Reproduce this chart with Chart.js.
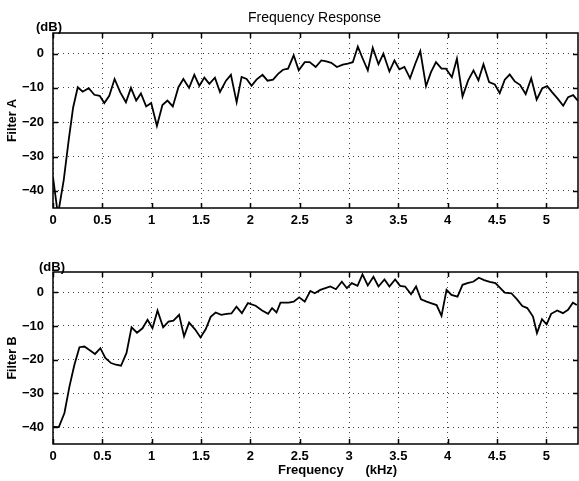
<!DOCTYPE html>
<html lang="en">
<head>
    <meta charset="UTF-8">
    <title>Frequency Response</title>
    <style>
        body {
            margin: 0;
            background: #fff;
            font-family: "Liberation Sans", Arial, sans-serif;
        }
        .wrap {
            position: relative;
            width: 579px;
            height: 481px;
        }
        canvas {
            position: absolute;
            left: 0;
        }
        .txt {
            position: absolute;
            color: #000;
            white-space: pre;
            line-height: 1;
        }
    </style>
    <script src="https://cdn.jsdelivr.net/npm/chart.js"></script>
</head>
<body>
    <div class="wrap">
        <canvas id="chartA" width="579" height="240" style="top:0"></canvas>
        <canvas id="chartB" width="579" height="241" style="top:240px"></canvas>
        <div class="txt" style="left:248px; top:10px; font-size:14px;">Frequency Response</div>
        <div class="txt" style="left:36px; top:20px; font-size:13px; font-weight:bold;">(dB)</div>
        <div class="txt" style="left:39px; top:260px; font-size:13px; font-weight:bold;">(dB)</div>
        <div class="txt" style="left:278px; top:463px; font-size:13px; font-weight:bold;">Frequency      (kHz)</div>
    </div>

    <script>
        // Filter A (top panel), kHz / dB
        const freqA = [0, 0.05, 0.109, 0.16, 0.204, 0.251, 0.301, 0.362, 0.419, 0.473, 0.52, 0.57, 0.624, 0.682, 0.739, 0.79,
            0.843, 0.891, 0.944, 0.995, 1.053, 1.109, 1.16, 1.214, 1.271, 1.321, 1.379, 1.432, 1.483, 1.534, 1.584, 1.641,
            1.692, 1.753, 1.803, 1.861, 1.911, 1.962, 2.012, 2.062, 2.123, 2.174, 2.23, 2.281, 2.331, 2.382, 2.439, 2.49,
            2.551, 2.601, 2.662, 2.719, 2.77, 2.82, 2.877, 2.937, 2.988, 3.038, 3.089, 3.139, 3.19, 3.24, 3.298, 3.348,
            3.409, 3.46, 3.51, 3.561, 3.618, 3.672, 3.722, 3.78, 3.83, 3.881, 3.937, 3.982, 4.042, 4.093, 4.15, 4.207,
            4.261, 4.311, 4.362, 4.419, 4.477, 4.527, 4.578, 4.628, 4.679, 4.732, 4.79, 4.846, 4.901, 4.958, 5.008, 5.059,
            5.116, 5.17, 5.22, 5.271, 5.318];
        const levelA = [-36, -47, -36.8, -25, -15.7, -9.8, -11.1, -10.1, -12, -12.3, -14.4, -12.3, -7.4, -11.3, -14.2, -10,
            -13.7, -11.6, -15.4, -14.4, -21.1, -15, -13.7, -15.4, -9.8, -7.4, -10, -6.2, -9.4, -7, -8.8, -7,
            -11.2, -7.9, -6.2, -14.2, -6.8, -7.4, -9.4, -7.6, -6.2, -7.9, -7.6, -5.9, -4.7, -4.4, -0.5, -4.9,
            -2.5, -2.5, -3.9, -2, -2.3, -2.7, -3.9, -3.2, -2.9, -2.5, 2, -1.5, -4.9, 1.7, -3.1, 0,
            -5.2, -2, -4.6, -3.9, -7.2, -2.9, 0.7, -9.5, -5.4, -2.5, -4.4, -4.4, -6.9, -1.5, -12.5, -7.8,
            -4.9, -7.8, -3.1, -8.3, -9, -11.5, -7.6, -6.1, -8.1, -9.1, -11.8, -7.2, -13.4, -10.1, -9.5, -11.3,
            -13.2, -15.2, -12.7, -12.1, -13.7];

        // Filter B (bottom panel)
        const freqB = [0, 0.059, 0.116, 0.167, 0.217, 0.268, 0.318, 0.369, 0.426, 0.48, 0.53, 0.588, 0.638, 0.689, 0.745, 0.796,
            0.851, 0.907, 0.958, 1.008, 1.059, 1.116, 1.17, 1.22, 1.278, 1.328, 1.379, 1.439, 1.495, 1.547, 1.598, 1.648,
            1.705, 1.76, 1.808, 1.859, 1.914, 1.975, 2.053, 2.119, 2.18, 2.22, 2.265, 2.305, 2.389, 2.439, 2.495, 2.551,
            2.608, 2.652, 2.709, 2.76, 2.81, 2.867, 2.927, 2.978, 3.028, 3.086, 3.136, 3.19, 3.247, 3.298, 3.359, 3.409,
            3.467, 3.517, 3.568, 3.628, 3.679, 3.729, 3.786, 3.836, 3.887, 3.937, 3.988, 4.038, 4.099, 4.15, 4.207, 4.258,
            4.315, 4.369, 4.426, 4.483, 4.533, 4.578, 4.645, 4.702, 4.756, 4.806, 4.864, 4.904, 4.955, 5.002, 5.048, 5.109,
            5.167, 5.219, 5.268, 5.308];
        const levelB = [-39.9, -40, -35.8, -27.9, -21.5, -16.3, -16.1, -17.1, -18.3, -16.6, -19.5, -21, -21.5, -21.8, -18, -10.4,
            -12, -10.7, -8.2, -10.7, -5.4, -10.4, -8.7, -8.4, -6.7, -13.1, -9, -11, -13.4, -11, -7.3, -6,
            -6.7, -6.4, -6.3, -4.3, -6.2, -3.2, -4, -5.4, -6.4, -4.7, -6, -3.1, -3.1, -2.8, -1.5, -2.8,
            0.4, -0.3, 0.7, 1.2, 1.7, 0.9, 3.1, 1.2, 2.7, 1.9, 5.3, 2, 4.6, 1.7, 3.8, 1.7,
            3.8, 1.9, 1.7, -0.6, 1.7, -2.1, -2.8, -3.3, -3.8, -7, 0.7, -0.8, -1.3, 2.2, 2.8, 3.1,
            4.3, 3.6, 3.1, 2.7, 1.2, -0.1, -0.3, -2.1, -4.1, -4.7, -7.2, -12.1, -8, -9.5, -6.4, -5.4,
            -6.2, -5.2, -3.1, -3.8];

        const xTicks = [0, 0.5, 1, 1.5, 2, 2.5, 3, 3.5, 4, 4.5, 5];
        const yTicks = [-40, -30, -20, -10, 0];

        Chart.defaults.font.family = '"Liberation Sans", Arial, sans-serif';
        Chart.defaults.color = '#000';

        // box around the plot with inward tick marks on all four sides
        const framePlugin = {
            id: 'frame',
            afterDraw(chart) {
                const ctx = chart.ctx;
                const a = chart.chartArea;
                const xs = chart.scales.x, ys = chart.scales.y;
                ctx.save();
                ctx.strokeStyle = '#000';
                ctx.lineWidth = 1.5;
                ctx.strokeRect(a.left, a.top, a.right - a.left, a.bottom - a.top);
                ctx.beginPath();
                xTicks.forEach(v => {
                    const px = Math.round(xs.getPixelForValue(v)) + 0.5;
                    ctx.moveTo(px, a.top); ctx.lineTo(px, a.top + 5);
                    ctx.moveTo(px, a.bottom); ctx.lineTo(px, a.bottom - 5);
                });
                yTicks.forEach(v => {
                    const py = Math.round(ys.getPixelForValue(v)) + 0.5;
                    ctx.moveTo(a.left, py); ctx.lineTo(a.left + 5, py);
                    ctx.moveTo(a.right, py); ctx.lineTo(a.right - 5, py);
                });
                ctx.stroke();
                ctx.restore();
            }
        };

        function makeChart(id, xs, ys, yTitle, pad, xHeight) {
            const points = xs.map((f, i) => ({ x: f, y: ys[i] }));
            return new Chart(document.getElementById(id), {
                type: 'line',
                data: {
                    datasets: [{
                        data: points,
                        borderColor: '#000',
                        borderWidth: 1.8,
                        pointRadius: 0,
                        tension: 0,
                        fill: false
                    }]
                },
                options: {
                    responsive: false,
                    animation: false,
                    devicePixelRatio: 1,
                    layout: { padding: pad },
                    plugins: { legend: { display: false }, tooltip: { enabled: false } },
                    scales: {
                        x: {
                            type: 'linear',
                            min: 0,
                            max: 5.32,
                            afterBuildTicks: s => { s.ticks = xTicks.map(v => ({ value: v })); },
                            afterFit: s => { s.height = xHeight; },
                            ticks: {
                                padding: 5,
                                maxRotation: 0,
                                font: { size: 13, weight: 'bold' },
                                callback: v => String(v)
                            },
                            grid: { color: '#444', lineWidth: 1, drawTicks: false },
                            border: { display: false, dash: [1, 4] }
                        },
                        y: {
                            min: -45,
                            max: 6,
                            afterBuildTicks: s => { s.ticks = yTicks.map(v => ({ value: v })); },
                            afterFit: s => { s.width = 53; },
                            title: {
                                display: true,
                                text: yTitle,
                                font: { size: 12.5, weight: 'bold' },
                                padding: { top: 5, bottom: 0 }
                            },
                            ticks: {
                                padding: 9,
                                font: { size: 13, weight: 'bold' },
                                callback: v => (v < 0 ? '\u2212' + Math.abs(v) : String(v))
                            },
                            grid: { color: '#444', lineWidth: 1, drawTicks: false },
                            border: { display: false, dash: [1, 4] }
                        }
                    }
                },
                plugins: [framePlugin]
            });
        }

        makeChart('chartA', freqA, levelA, 'Filter A', { top: 33, right: 1, left: 0, bottom: 0 }, 32);
        makeChart('chartB', freqB, levelB, 'Filter B', { top: 32, right: 1, left: 0, bottom: 0 }, 37);
    </script>
</body>
</html>
